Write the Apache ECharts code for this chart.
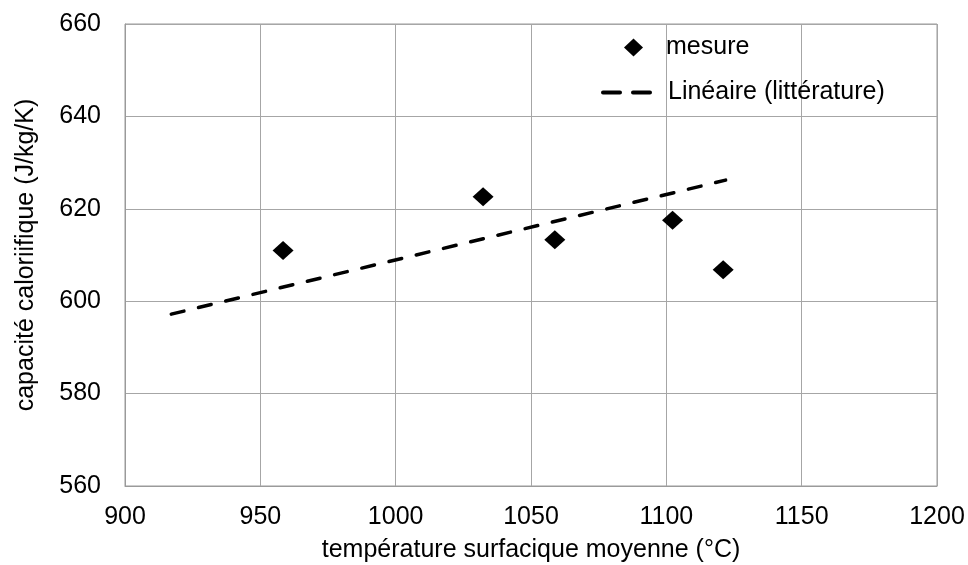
<!DOCTYPE html>
<html>
<head>
<meta charset="utf-8">
<script src="https://cdn.jsdelivr.net/npm/echarts@6/dist/echarts.min.js"></script>
<style>
html,body{margin:0;padding:0;background:#fff;}
#chart{width:968px;height:565px;}
</style>
</head>
<body>
<div id="chart"></div>
<script>
// Data
const mesureTemp = [958.4, 1032.3, 1058.8, 1102.3, 1121.0];
const mesureCp = [611.0, 622.6, 613.3, 617.5, 606.8];
const litteratureTemp = [917.1, 1121.9];
const litteratureCp = [597.2, 626.2];
const xTicks = {min: 900, max: 1200, interval: 50};
const yTicks = {min: 560, max: 660, interval: 20};
const seriesNames = ['mesure', 'Linéaire (littérature)'];
const xAxisTitle = 'température surfacique moyenne (°C)';
const yAxisTitle = 'capacité caloriifique (J/kg/K)';

const font = 'Liberation Sans, Arial, sans-serif';
const chart = echarts.init(document.getElementById('chart'), null, {renderer: 'canvas'});

const option = {
  backgroundColor: '#ffffff',
  animation: false,
  textStyle: {fontFamily: font},
  grid: {
    left: 125, right: 31, top: 24, bottom: 79,
    containLabel: false, outerBoundsMode: 'none',
    show: true, borderColor: '#9a9a9a', borderWidth: 1
  },
  legend: [
    {
      data: [seriesNames[0]], left: 624, top: 35, padding: 0,
      itemWidth: 19, itemHeight: 18,
      itemStyle: {color: '#000', opacity: 1},
      textStyle: {fontSize: 25, color: '#000', fontFamily: font, padding: [0, 0, 0, 18]}
    },
    {
      data: [seriesNames[1]], left: 601, top: 80, padding: 0,
      itemWidth: 48, itemHeight: 14,
      itemStyle: {opacity: 0},
      lineStyle: {color: '#000', width: 4, type: [17, 13], cap: 'round'},
      textStyle: {fontSize: 25, color: '#000', fontFamily: font, padding: [0, 0, 0, 12]}
    }
  ],
  xAxis: {
    type: 'value', min: xTicks.min, max: xTicks.max, interval: xTicks.interval,
    name: xAxisTitle, nameLocation: 'middle', nameGap: 52,
    nameTextStyle: {fontSize: 25, color: '#000', fontFamily: font},
    axisLine: {show: true, lineStyle: {color: '#9a9a9a', width: 1}},
    axisTick: {show: false},
    axisLabel: {fontSize: 25, color: '#000', margin: 19, fontFamily: font, formatter: v => String(v)},
    splitLine: {show: true, lineStyle: {color: '#a6a6a6', width: 1}}
  },
  yAxis: {
    type: 'value', min: yTicks.min, max: yTicks.max, interval: yTicks.interval,
    name: yAxisTitle, nameLocation: 'middle', nameGap: 86,
    nameTextStyle: {fontSize: 25, color: '#000', fontFamily: font},
    axisLine: {show: true, lineStyle: {color: '#9a9a9a', width: 1}},
    axisTick: {show: false},
    axisLabel: {fontSize: 25, color: '#000', margin: 24, fontFamily: font, formatter: v => String(v)},
    splitLine: {show: true, lineStyle: {color: '#a6a6a6', width: 1}}
  },
  series: [
    {
      name: seriesNames[0], type: 'scatter',
      data: mesureTemp.map((t, i) => [t, mesureCp[i]]),
      symbol: 'diamond', symbolSize: [21, 19],
      itemStyle: {color: '#000000', opacity: 1}, z: 3
    },
    {
      name: seriesNames[1], type: 'line',
      data: litteratureTemp.map((t, i) => [t, litteratureCp[i]]),
      symbol: 'none', showSymbol: false,
      lineStyle: {color: '#000000', width: 3.5, type: [13, 15], cap: 'round'},
      itemStyle: {color: '#000000'}, z: 2
    }
  ]
};
chart.setOption(option);
</script>
</body>
</html>
